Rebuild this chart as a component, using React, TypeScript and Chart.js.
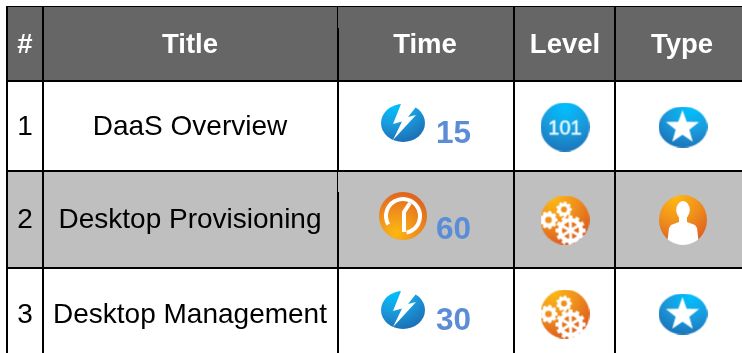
import React, { useEffect, useRef } from "react";
import { Chart, registerables } from "chart.js";

Chart.register(...registerables);

// ---- table content ----
const headers = ["#", "Title", "Time", "Level", "Type"];
const numbers = ["1", "2", "3"];
const titles = ["DaaS Overview", "Desktop Provisioning", "Desktop Management"];
const times = [15, 60, 30];
const timeIcons = ["bolt", "clock", "bolt"];
const levelIcons = ["101", "gears", "gears"];
const typeIcons = ["star", "person", "star"];

// ---- layout in page pixels, used as the scale units ----
const columnEdges = [7, 43, 338, 514, 615];
const rowEdges = [6.5, 81, 171, 268];
const rowFills = ["#666666", "#ffffff", "#bfbfbf", "#ffffff"];
const rowBands = [6, 81, 171, 268, 353];
const headerCentres = [25, 190, 425, 565, 682];
const headerBaseline = 53;
const textBaselines = [135, 228, 323];
const timeBaselines = [143, 239, 330];
const timeCentres = [403, 403, 403];
const timeIconY = [123, 216, 310];
const levelIconY = [127, 220, 314];
const typeIconY = [127, 220, 314];
const timeTextX = 436;
const levelX = 565;
const typeX = 683;
const FONT = '"Liberation Sans", Arial, sans-serif';

const BLUE = ["#00c0ff", "#1a9bdc", "#1b6db4"];
const ORANGE = ["#fdb913", "#f0901c", "#dc5a1e"];

function base(w: number, h: number, colors: string[], fx: number, fy: number) {
  const c = document.createElement("canvas");
  c.width = w;
  c.height = h;
  const ctx = c.getContext("2d")!;
  ctx.save();
  ctx.scale(1, h / w);
  const g = ctx.createRadialGradient(w * fx, w * fy, 0, w * fx, w * fy, w * 1.0);
  g.addColorStop(0, colors[0]);
  g.addColorStop(0.5, colors[1]);
  g.addColorStop(1, colors[2]);
  ctx.fillStyle = g;
  ctx.beginPath();
  ctx.arc(w / 2, w / 2, w / 2, 0, Math.PI * 2);
  ctx.fill();
  ctx.restore();
  ctx.fillStyle = "#ffffff";
  ctx.strokeStyle = "#ffffff";
  return { c, ctx };
}

function poly(ctx: CanvasRenderingContext2D, pts: number[][]) {
  ctx.beginPath();
  pts.forEach((p, i) => (i ? ctx.lineTo(p[0], p[1]) : ctx.moveTo(p[0], p[1])));
  ctx.closePath();
  ctx.fill();
}

function gear(ctx: CanvasRenderingContext2D, cx: number, cy: number, r: number, n: number) {
  ctx.beginPath();
  ctx.arc(cx, cy, r * 0.84, 0, Math.PI * 2);
  ctx.fill();
  ctx.lineWidth = (Math.PI * r) / n;
  for (let i = 0; i < n; i++) {
    const a = (i / n) * Math.PI * 2;
    ctx.beginPath();
    ctx.moveTo(cx, cy);
    ctx.lineTo(cx + Math.cos(a) * r, cy + Math.sin(a) * r);
    ctx.stroke();
  }
}

function makeIcon(kind: string) {
  if (kind === "bolt") {
    const { c, ctx } = base(44, 38, BLUE, 0.3, 0.05);
    poly(ctx, [[20, 0], [12, 20], [21, 17.5], [12, 36], [35, 11], [27, 13], [35, 3], [29, 0]]);
    return c;
  }
  if (kind === "star") {
    const { c, ctx } = base(49, 41, BLUE, 0.65, 0.1);
    const pts: number[][] = [];
    for (let i = 0; i < 10; i++) {
      const r = i % 2 ? 7.2 : 17.5;
      const a = -Math.PI / 2 + (i * Math.PI) / 5;
      pts.push([24 + r * Math.cos(a), 21 + r * Math.sin(a)]);
    }
    poly(ctx, pts);
    return c;
  }
  if (kind === "101") {
    const { c, ctx } = base(49, 49, BLUE, 0.5, 0.1);
    ctx.fillStyle = "#e4f8ff";
    ctx.strokeStyle = "#e4f8ff";
    ctx.lineWidth = 0.5;
    ctx.font = `20px ${FONT}`;
    ctx.textAlign = "center";
    ctx.fillText("101", 24.5, 32);
    ctx.strokeText("101", 24.5, 32);
    return c;
  }
  if (kind === "clock") {
    const { c, ctx } = base(48, 48, ["#fdb913", "#ee8a1c", "#d9541e"], 0.35, 0.85);
    ctx.lineWidth = 4;
    ctx.lineCap = "butt";
    ctx.beginPath();
    ctx.arc(24, 24, 17, (150 * Math.PI) / 180, ((360 + 78) * Math.PI) / 180);
    ctx.stroke();
    ctx.lineJoin = "miter";
    ctx.beginPath();
    ctx.moveTo(31, 11);
    ctx.lineTo(25, 20);
    ctx.lineTo(25, 40);
    ctx.stroke();
    return c;
  }
  if (kind === "gears") {
    const { c, ctx } = base(49, 49, ORANGE, 0.25, 0.05);
    const hole = ctx.createLinearGradient(0, 0, 49, 49);
    hole.addColorStop(0, "#f39a1a");
    hole.addColorStop(1, "#dc5a1e");
    ctx.globalCompositeOperation = "source-atop";
    gear(ctx, 8, 24.5, 9, 9);
    gear(ctx, 23.5, 14, 7.8, 9);
    gear(ctx, 30, 35, 15, 12);
    ctx.fillStyle = "#f0901c";
    ctx.beginPath();
    ctx.arc(8, 24.5, 3.3, 0, Math.PI * 2);
    ctx.fill();
    ctx.beginPath();
    ctx.arc(23.5, 14, 3, 0, Math.PI * 2);
    ctx.fill();
    ctx.fillStyle = hole;
    ctx.beginPath();
    ctx.arc(30, 35, 8.5, 0, Math.PI * 2);
    ctx.fill();
    ctx.lineWidth = 3;
    for (let i = 0; i < 6; i++) {
      const a = (i / 6) * Math.PI * 2 + 0.5;
      ctx.beginPath();
      ctx.moveTo(30, 35);
      ctx.lineTo(30 + Math.cos(a) * 9, 35 + Math.sin(a) * 9);
      ctx.stroke();
    }
    return c;
  }
  // person
  const { c, ctx } = base(48, 50, ORANGE, 0.35, 0.05);
  ctx.globalCompositeOperation = "source-atop";
  ctx.beginPath();
  ctx.ellipse(24, 15, 6.8, 9, 0, 0, Math.PI * 2);
  ctx.fill();
  poly(ctx, [[20, 22], [28, 22], [28, 27], [36, 30], [38, 33], [40, 50], [8, 50], [10, 33], [12, 30], [20, 27]]);
  return c;
}

export default function App() {
  const ref = useRef<HTMLCanvasElement>(null);

  useEffect(() => {
    const tablePlugin = {
      id: "tablePlugin",
      beforeDraw(chart: any) {
        const { ctx, scales } = chart;
        const x0 = scales.x.getPixelForValue(6);
        const x1 = scales.x.getPixelForValue(742);
        rowFills.forEach((fill, i) => {
          const top = scales.y.getPixelForValue(rowBands[i]);
          const bottom = scales.y.getPixelForValue(rowBands[i + 1]);
          ctx.fillStyle = fill;
          ctx.fillRect(x0, top, x1 - x0, bottom - top);
        });
      },
      afterDatasetsDraw(chart: any) {
        const { ctx, scales } = chart;
        const put = (t: string, x: number, y: number, font: string, color: string, align: CanvasTextAlign) => {
          ctx.font = font;
          ctx.fillStyle = color;
          ctx.textAlign = align;
          ctx.textBaseline = "alphabetic";
          ctx.fillText(t, scales.x.getPixelForValue(x), scales.y.getPixelForValue(y));
        };
        ctx.save();
        // the first-column rule is thinner in the upper part of two rows
        ctx.fillStyle = rowFills[0];
        ctx.fillRect(338, 7, 1, 21);
        ctx.fillStyle = rowFills[2];
        ctx.fillRect(338, 172, 1, 20);
        headers.forEach((h, i) =>
          put(h, headerCentres[i], headerBaseline, `bold 27.5px ${FONT}`, "#ffffff", "center")
        );
        numbers.forEach((n, i) => put(n, 25, textBaselines[i], `28px ${FONT}`, "#000000", "center"));
        titles.forEach((t, i) => put(t, 190, textBaselines[i], `28px ${FONT}`, "#000000", "center"));
        times.forEach((t, i) =>
          put(String(t), timeTextX, timeBaselines[i], `bold 31.5px ${FONT}`, "#5b8dd6", "left")
        );
        ctx.restore();
      },
    };

    const iconData = (kinds: string[], xs: number[], ys: number[]) => ({
      data: kinds.map((_, i) => ({ x: xs[i], y: ys[i] })),
      pointStyle: kinds.map(makeIcon),
      pointRadius: 24,
      showLine: false,
    });

    const chart = new Chart(ref.current!, {
      type: "scatter",
      data: {
        datasets: [
          iconData(timeIcons, timeCentres, timeIconY),
          iconData(levelIcons, [levelX, levelX, levelX], levelIconY),
          iconData(typeIcons, [typeX, typeX, typeX], typeIconY),
        ] as any,
      },
      options: {
        responsive: false,
        animation: false,
        events: [],
        layout: { autoPadding: false, padding: { top: 6, left: 6, right: 0, bottom: 0 } },
        plugins: { legend: { display: false }, tooltip: { enabled: false } },
        scales: {
          x: {
            type: "linear",
            min: 6,
            max: 742,
            afterBuildTicks: (axis: any) => {
              axis.ticks = columnEdges.map((value) => ({ value }));
            },
            ticks: { display: false },
            border: { display: false },
            grid: { color: "#000000", lineWidth: 2, drawTicks: false },
          },
          y: {
            type: "linear",
            reverse: true,
            min: 6,
            max: 353,
            afterBuildTicks: (axis: any) => {
              axis.ticks = rowEdges.map((value) => ({ value }));
            },
            ticks: { display: false },
            border: { display: false },
            grid: {
              color: "#000000",
              lineWidth: (c: any) => (c.index === 0 ? 1 : 2),
              drawTicks: false,
            },
          },
        },
      },
      plugins: [tablePlugin],
    } as any);
    return () => chart.destroy();
  }, []);

  return (
    <canvas
      ref={ref}
      width={742}
      height={353}
      style={{ position: "absolute", left: 0, top: 0, width: 742, height: 353 }}
    />
  );
}
